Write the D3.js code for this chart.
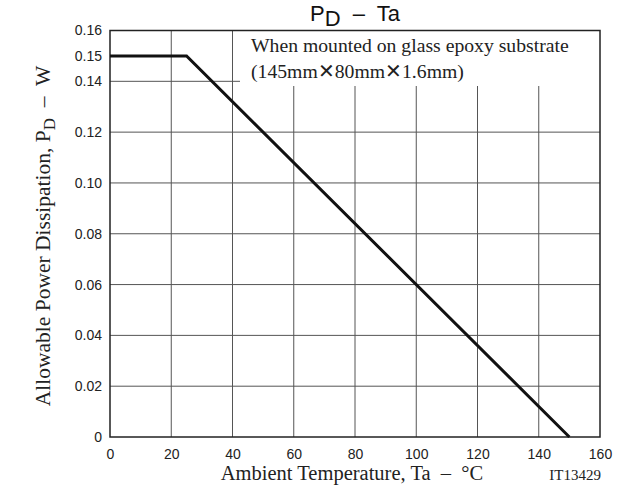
<!DOCTYPE html>
<html><head><meta charset="utf-8">
<script src="https://cdn.jsdelivr.net/npm/d3@7"></script>
<style>body{margin:0;background:#fff} text{white-space:pre}</style>
</head><body>
<svg id="c" width="628" height="494"></svg>
<script>
const tempC = [0, 25, 150];
const powerW = [0.15, 0.15, 0];
const xTicks = [0, 20, 40, 60, 80, 100, 120, 140, 160];
const yTicks = [0, 0.02, 0.04, 0.06, 0.08, 0.10, 0.12, 0.14, 0.15, 0.16];
const yTickLabels = ["0", "0.02", "0.04", "0.06", "0.08", "0.10", "0.12", "0.14", "0.15", "0.16"];
const yGrid = [0.02, 0.04, 0.06, 0.08, 0.10, 0.12, 0.14];

const svg = d3.select("#c");
const x = d3.scaleLinear().domain([0, 160]).range([110, 600]);
const y = d3.scaleLinear().domain([0, 0.16]).range([437, 30.5]);
const sans = "Liberation Sans, Arial, sans-serif";
const serif = "Liberation Serif, Times New Roman, serif";

// grid
svg.append("g").selectAll("line").data(xTicks.slice(1, -1)).join("line")
  .attr("x1", d => x(d)).attr("x2", d => x(d)).attr("y1", y(0)).attr("y2", y(0.16))
  .attr("stroke", "#555").attr("stroke-width", 1);
svg.append("g").selectAll("line").data(yGrid).join("line")
  .attr("x1", x(0)).attr("x2", x(160)).attr("y1", d => y(d)).attr("y2", d => y(d))
  .attr("stroke", "#555").attr("stroke-width", 1);

// note box (white background covering grid)
svg.append("rect").attr("x", 240).attr("y", y(0.16)).attr("width", x(160) - 240).attr("height", 86 - y(0.16))
  .attr("fill", "#fff");
svg.append("text").attr("x", 251).attr("y", 52).attr("font-family", serif).attr("font-size", 19.7).attr("fill", "#222")
  .text("When mounted on glass epoxy substrate");
svg.append("text").attr("x", 251).attr("y", 78).attr("font-family", serif).attr("font-size", 19.7).attr("fill", "#222")
  .text("(145mm\u2715" + "80mm\u2715" + "1.6mm)");

// frame
svg.append("rect").attr("x", x(0)).attr("y", y(0.16)).attr("width", x(160) - x(0)).attr("height", y(0) - y(0.16))
  .attr("fill", "none").attr("stroke", "#222").attr("stroke-width", 1.5);

// axes
const xAxis = d3.axisBottom(x).tickValues(xTicks).tickSize(0).tickPadding(12).tickFormat(d3.format("d"));
const gx = svg.append("g").attr("transform", `translate(0,${y(0)})`).call(xAxis);
gx.select(".domain").remove();
gx.selectAll("text").attr("font-family", sans).attr("font-size", 14).attr("fill", "#222");

const yAxis = d3.axisLeft(y).tickValues(yTicks).tickSize(0).tickPadding(8)
  .tickFormat((d, i) => yTickLabels[i]);
const gy = svg.append("g").attr("transform", `translate(${x(0)},0)`).call(yAxis);
gy.select(".domain").remove();
gy.selectAll("text").attr("font-family", sans).attr("font-size", 14).attr("fill", "#222");

// data line
const line = d3.line().x((d, i) => x(tempC[i])).y((d, i) => y(powerW[i]));
svg.append("path").datum(tempC).attr("d", line).attr("fill", "none")
  .attr("stroke", "#111").attr("stroke-width", 3).attr("stroke-linejoin", "miter");

// title
const t = svg.append("text").attr("x", 355).attr("y", 21).attr("text-anchor", "middle")
  .attr("font-family", sans).attr("font-size", 22).attr("fill", "#111");
t.append("tspan").text("P");
t.append("tspan").attr("dy", 5).text("D");
t.append("tspan").attr("dy", -5).text("  \u2013  Ta");

// y label
const yl = svg.append("text").attr("transform", "translate(50,236) rotate(-90)").attr("text-anchor", "middle")
  .attr("font-family", serif).attr("font-size", 21.5).attr("fill", "#222");
yl.append("tspan").text("Allowable Power Dissipation, P");
yl.append("tspan").attr("dy", 5).attr("font-size", 17).text("D");
yl.append("tspan").attr("dy", -5).text("  \u2013  W");

// x label
svg.append("text").attr("x", 352).attr("y", 480).attr("text-anchor", "middle")
  .attr("font-family", serif).attr("font-size", 20.5).attr("fill", "#222")
  .text("Ambient Temperature, Ta  \u2013  \u00B0C");
svg.append("text").attr("x", 601).attr("y", 480).attr("text-anchor", "end")
  .attr("font-family", serif).attr("font-size", 15).attr("fill", "#222").text("IT13429");
</script>
</body></html>
